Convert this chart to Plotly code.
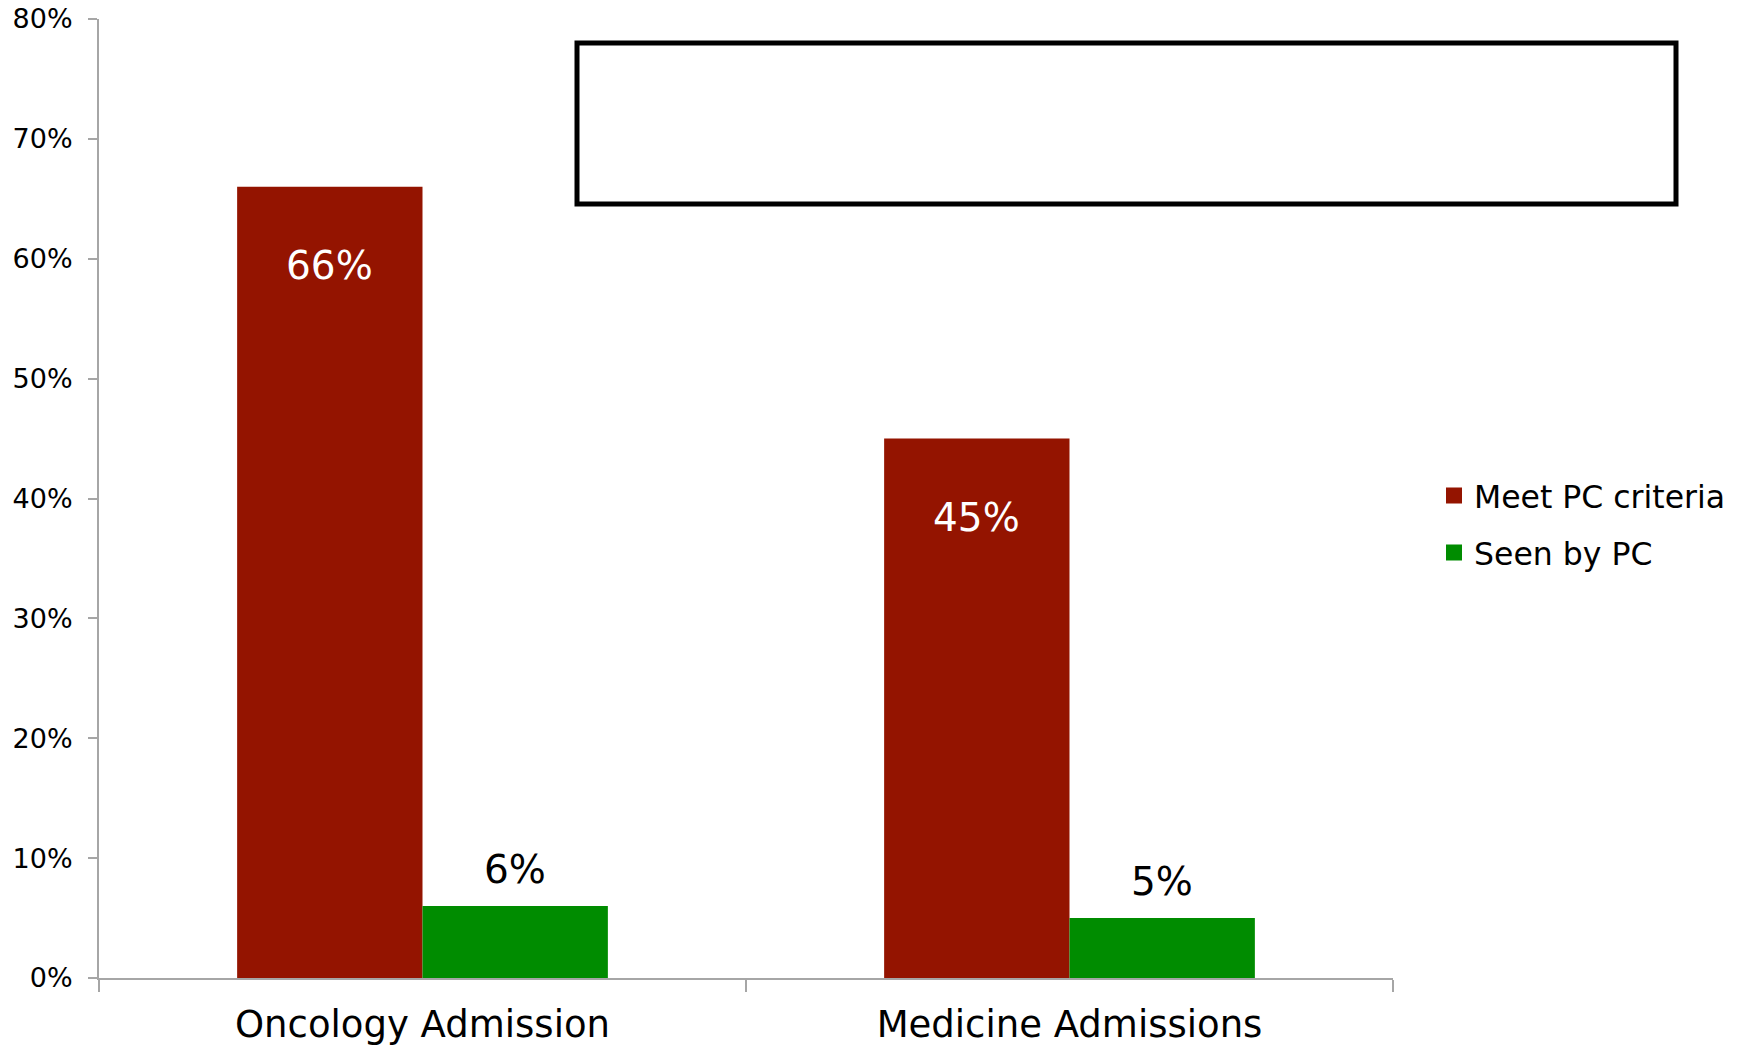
import plotly.graph_objects as go

# Share of admissions (percent)
categories = ["Oncology Admission", "Medicine Admissions"]
meet_pc_criteria = [66, 45]
seen_by_pc = [6, 5]
series_names = ["Meet PC criteria", "Seen by PC"]
y_ticks = [0, 10, 20, 30, 40, 50, 60, 70, 80]

RED = "#941400"
GREEN = "#008C00"
FONT = "DejaVu Sans"

W, H = 1740, 1048
M_L, M_R, M_T, M_B = 99, 347, 19, 70
BAR_GAP = 0.427
HALF_BAR = (1 - BAR_GAP) / 4  # offset of each bar centre from its category centre

fig = go.Figure()
fig.add_trace(go.Bar(x=categories, y=meet_pc_criteria, name=series_names[0],
                     marker=dict(color=RED, line=dict(width=0)), showlegend=False))
fig.add_trace(go.Bar(x=categories, y=seen_by_pc, name=series_names[1],
                     marker=dict(color=GREEN, line=dict(width=0)), showlegend=False))

# square legend keys
for name, col in zip(series_names, [RED, GREEN]):
    fig.add_trace(go.Scatter(x=[None], y=[None], mode="markers", name=name,
                             legendgroup=name,
                             marker=dict(symbol="square", size=16, color=col)))

# value labels
annotations = []
for i, v in enumerate(meet_pc_criteria):
    annotations.append(dict(x=i - HALF_BAR, y=v, xref="x", yref="y", text=f"{v}%",
                            showarrow=False, yshift=-79,
                            font=dict(family=FONT, size=39, color="white")))
for i, v in enumerate(seen_by_pc):
    annotations.append(dict(x=i + HALF_BAR, y=v, xref="x", yref="y", text=f"{v}%",
                            showarrow=False, yshift=37,
                            font=dict(family=FONT, size=39, color="black")))

pw = W - M_L - M_R
ph = H - M_T - M_B


def px_x(p):
    return (p - M_L) / pw


def px_y(p):
    return (H - M_B - p) / ph


fig.update_layout(
    width=W, height=H,
    margin=dict(l=M_L, r=M_R, t=M_T, b=M_B, pad=0, autoexpand=False),
    paper_bgcolor="white", plot_bgcolor="white",
    barmode="group", bargap=BAR_GAP, bargroupgap=0,
    font=dict(family=FONT, color="black"),
    annotations=annotations,
    shapes=[dict(type="rect", xref="paper", yref="paper",
                 x0=px_x(577), x1=px_x(1676), y0=px_y(204), y1=px_y(43),
                 line=dict(color="black", width=5), fillcolor="rgba(0,0,0,0)")],
    legend=dict(x=px_x(1434), xanchor="left", y=px_y(524), yanchor="middle",
                font=dict(family=FONT, size=31.5, color="black"),
                tracegroupgap=13, bgcolor="rgba(0,0,0,0)", itemsizing="trace"),
    xaxis=dict(showline=True, linecolor="#a6a6a6", linewidth=2,
               ticks="outside", tickson="boundaries", ticklen=12, tickcolor="#a6a6a6",
               tickwidth=2, showgrid=False, zeroline=False, automargin=False,
               tickfont=dict(family=FONT, size=37, color="black"),
               ticklabelstandoff=13),
    yaxis=dict(range=[0, 80], tickvals=y_ticks, ticktext=[f"{t}%" for t in y_ticks],
               showline=True, linecolor="#a6a6a6", linewidth=2,
               ticks="outside", ticklen=9, tickcolor="#a6a6a6", tickwidth=2,
               showgrid=False, zeroline=False, automargin=False,
               tickfont=dict(family=FONT, size=27, color="black"),
               ticklabelstandoff=10),
)

fig.write_html("out.html")
